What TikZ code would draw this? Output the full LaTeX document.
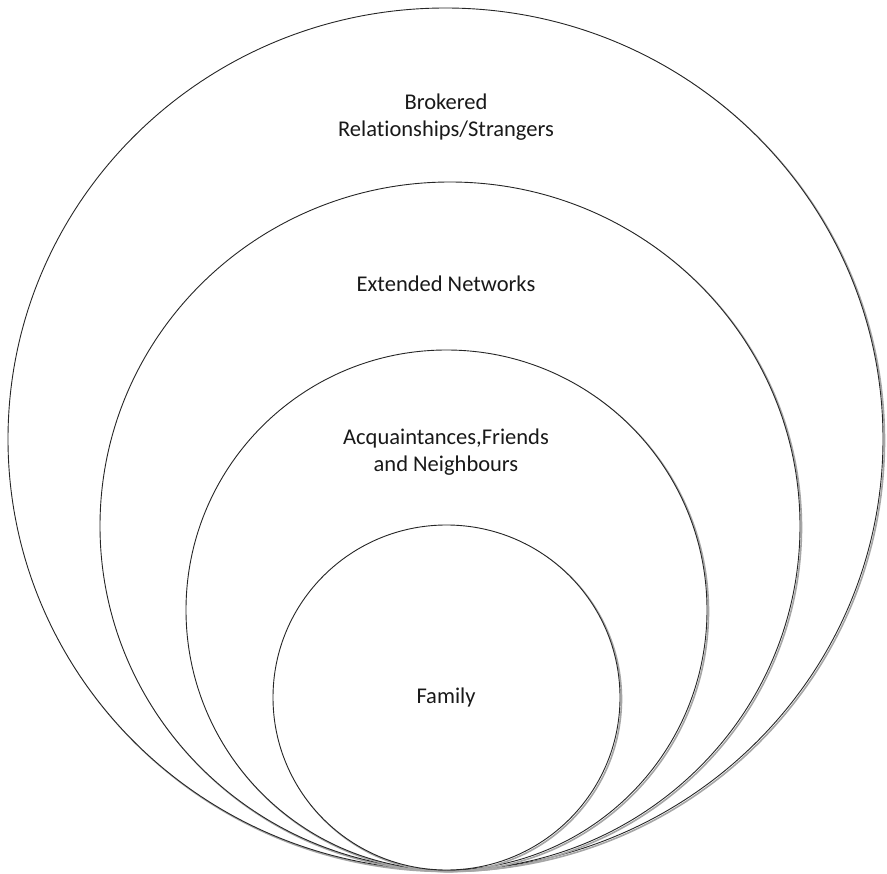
\documentclass[tikz,border=0pt]{standalone}
\usepackage{fontspec}
\setmainfont{Carlito}[Ligatures=NoCommon]
\begin{document}
\begin{tikzpicture}[x=1pt,y=-1pt,
  ring/.style={draw=black!85,line width=0.9pt,fill=white},
  ringshadow/.style={draw=black!35,line width=1.6pt},
  lbl/.style={font=\fontsize{22.5}{27}\selectfont,align=center,text=black!90}]
\useasboundingbox (0,0) rectangle (887,874);
% outer
\draw[ringshadow] (447,440.5) ellipse [x radius=437.5,y radius=431];
\draw[ring] (445.5,439) ellipse [x radius=437.5,y radius=431];
% second
\draw[ringshadow] (451.5,527.5) ellipse [x radius=350,y radius=344];
\draw[ring] (450,526) ellipse [x radius=350,y radius=344];
% third
\draw[ringshadow] (448,611.5) ellipse [x radius=260.5,y radius=260];
\draw[ring] (446.5,610) ellipse [x radius=260.5,y radius=260];
% inner
\draw[ringshadow] (448,699) ellipse [x radius=173.5,y radius=172.5];
\draw[ring] (446.5,697.5) ellipse [x radius=173.5,y radius=172.5];
\node[lbl] (t1) at (446,117) {Brokered\\Relationships/Strangers};
\node[lbl] (t2) at (446,284) {Extended Networks};
\node[lbl] (t3) at (446,452) {Acquaintances,Friends\\and Neighbours};
\node[lbl] (t4) at (446,698) {Family};
\end{tikzpicture}
\end{document}
